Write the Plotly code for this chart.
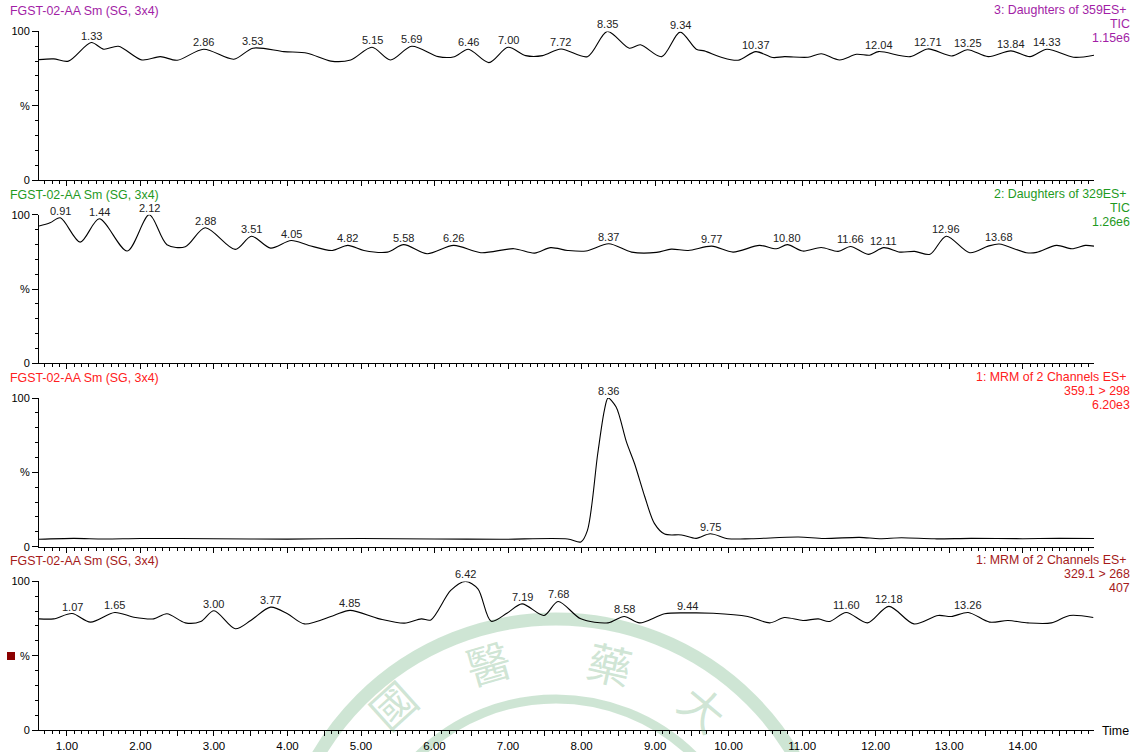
import plotly.graph_objects as go

# ---- retention time (min) / relative intensity (%) for each channel ----
t_d359 = [0.62, 0.82, 1.02, 1.33, 1.50, 1.70, 2.02, 2.27, 2.50, 2.86, 3.27, 3.53, 3.95,
          4.27, 4.59, 4.86, 5.15, 5.40, 5.69, 6.05, 6.27, 6.46, 6.74, 7.00, 7.24, 7.47,
          7.72, 8.08, 8.35, 8.65, 8.80, 9.09, 9.34, 9.56, 9.67, 9.90, 10.13, 10.37, 10.60,
          10.76, 11.08, 11.26, 11.51, 11.74, 11.92, 12.04, 12.47, 12.71, 13.04, 13.25,
          13.53, 13.84, 14.10, 14.33, 14.69, 14.97]
i_d359 = [81.0, 81.5, 80.0, 92.5, 88.0, 90.0, 80.8, 83.0, 80.6, 88.0, 81.3, 88.7, 86.4,
          85.3, 80.0, 80.8, 89.3, 80.8, 90.0, 83.0, 83.0, 88.0, 79.0, 89.3, 83.7, 83.7,
          88.2, 83.0, 100.0, 88.7, 91.0, 83.0, 99.5, 88.0, 86.9, 82.6, 80.6, 86.4, 82.4,
          83.0, 82.6, 85.0, 80.8, 84.6, 84.0, 86.4, 83.0, 88.2, 83.5, 87.7,
          83.0, 86.9, 83.0, 88.0, 82.6, 84.0]
pk_d359 = [1.33, 2.86, 3.53, 5.15, 5.69, 6.46, 7.00, 7.72, 8.35, 9.34, 10.37, 12.04,
           12.71, 13.25, 13.84, 14.33]

t_d329 = [0.62, 0.77, 0.91, 1.18, 1.44, 1.82, 2.12, 2.36, 2.61, 2.88, 3.29, 3.51, 3.77,
          4.05, 4.29, 4.61, 4.82, 5.04, 5.36, 5.58, 5.90, 6.26, 6.63, 7.08, 7.36, 7.58,
          7.81, 8.06, 8.37, 8.68, 9.02, 9.22, 9.45, 9.77, 10.06, 10.42, 10.65, 10.80,
          11.01, 11.26, 11.49, 11.66, 11.90, 12.11, 12.33, 12.53, 12.74, 12.96, 13.28,
          13.53, 13.68, 14.05, 14.19, 14.46, 14.67, 14.85, 14.97]
i_d329 = [92.4, 94.6, 98.0, 81.6, 97.3, 75.6, 100.0, 79.9, 78.5, 91.3, 76.7, 85.6, 77.6,
          82.7, 79.4, 76.0, 79.4, 76.0, 74.9, 79.9, 73.8, 79.4, 74.5, 77.2, 74.2, 77.9,
          76.0, 75.6, 80.5, 74.9, 74.7, 76.9, 76.0, 78.9, 74.9, 79.4, 77.2, 79.9,
          75.6, 78.0, 75.4, 78.7, 73.4, 77.9, 74.9, 75.4, 73.4, 85.6, 74.5,
          78.9, 80.3, 74.5, 74.7, 79.4, 77.2, 79.4, 78.9]
pk_d329 = [0.91, 1.44, 2.12, 2.88, 3.51, 4.05, 4.82, 5.58, 6.26, 8.37, 9.77, 10.80,
           11.66, 12.11, 12.96, 13.68]

t_mrm298 = [0.62, 1.09, 1.50, 2.00, 3.00, 4.00, 5.00, 6.00, 6.90, 7.81, 7.99, 8.08, 8.22,
            8.31, 8.36, 8.47, 8.61, 8.72, 8.86, 8.99, 9.13, 9.36, 9.56, 9.75, 9.99, 10.31,
            10.95, 11.30, 11.78, 12.05, 12.35, 12.80, 13.30, 14.00, 14.50, 14.97]
i_mrm298 = [5.0, 5.6, 5.2, 5.5, 5.4, 5.1, 5.5, 5.2, 5.0, 5.2, 3.2, 11.0, 62.7,
            91.7, 100.0, 94.0, 70.5, 56.0, 33.6, 15.7, 8.5, 7.9, 5.6, 8.7, 5.4, 5.4,
            6.5, 5.5, 6.3, 5.4, 6.0, 5.3, 5.6, 5.4, 5.6, 5.5]
pk_mrm298 = [8.36, 9.75]

t_mrm268 = [0.62, 0.82, 1.07, 1.32, 1.65, 1.91, 2.18, 2.36, 2.61, 2.82, 3.00, 3.29, 3.50,
            3.77, 4.00, 4.23, 4.63, 4.85, 5.25, 5.59, 5.82, 5.95, 6.22, 6.42, 6.59, 6.77,
            6.99, 7.19, 7.49, 7.68, 7.99, 8.36, 8.58, 8.79, 9.13, 9.44, 9.79, 10.26, 10.56,
            10.76, 11.01, 11.22, 11.37, 11.60, 11.89, 12.18, 12.52, 12.85, 13.03, 13.26,
            13.55, 13.80, 14.07, 14.39, 14.64, 14.96]
i_mrm268 = [74.8, 74.8, 78.4, 72.6, 79.1, 75.9, 74.8, 78.2, 72.1, 73.0, 80.2, 68.1, 73.7,
            82.7, 78.2, 71.4, 77.1, 80.5, 74.8, 71.9, 74.8, 74.1, 93.9, 100.0, 95.0, 73.2,
            78.8, 84.9, 77.1, 86.5, 74.8, 72.1, 76.4, 72.1, 78.2, 78.8, 78.6, 76.4, 72.1,
            75.7, 73.7, 74.8, 73.0, 79.1, 72.1, 83.2, 71.4, 77.1, 76.4, 79.1,
            72.6, 73.7, 72.1, 72.1, 77.1, 75.7]
pk_mrm268 = [1.07, 1.65, 3.00, 3.77, 4.85, 6.42, 7.19, 7.68, 8.58, 9.44, 11.60, 12.18, 13.26]

sample_title = "FGST-02-AA Sm (SG, 3x4)"
channel_info = [
    ["3: Daughters of 359ES+ ", "TIC", "1.15e6"],
    ["2: Daughters of 329ES+ ", "TIC", "1.26e6"],
    ["1: MRM of 2 Channels ES+ ", "359.1 > 298", "6.20e3"],
    ["1: MRM of 2 Channels ES+ ", "329.1 > 268", "407"],
]
title_colors = ["#a21ea6", "#1f9a1f", "#ff2020", "#a51a1a"]

x_tick_labels = ["1.00", "2.00", "3.00", "4.00", "5.00", "6.00", "7.00", "8.00", "9.00",
                 "10.00", "11.00", "12.00", "13.00", "14.00"]

# ---- page geometry (pixels) ----
W, H = 1138, 752
ML, MR, MT, MB = 39, 44, 31, 22
PW, PH = W - ML - MR, H - MT - MB
X_RANGE = [0.62, 14.97]
panel_bottom_px = [180.0, 363.4, 546.7, 730.0]
panel_height_px = 148.6

FONT = "Liberation Sans, Arial, sans-serif"


def px_x(px):
    return (px - ML) / PW


def px_y(py):
    return (H - MB - py) / PH


series = [
    (t_d359, i_d359, pk_d359),
    (t_d329, i_d329, pk_d329),
    (t_mrm298, i_mrm298, pk_mrm298),
    (t_mrm268, i_mrm268, pk_mrm268),
]

fig = go.Figure()
annotations = []
layout_axes = {}

major_x = []
major_x_text = []
for lab in x_tick_labels:
    v = float(lab)
    major_x += [v, v + 0.5]
    major_x_text += [lab, ""]

for k, (tt, ii, pks) in enumerate(series):
    n = k + 1
    xid = "x" if n == 1 else f"x{n}"
    yid = "y" if n == 1 else f"y{n}"
    fig.add_trace(go.Scatter(
        x=tt, y=ii, mode="lines", xaxis=xid, yaxis=yid,
        line=dict(color="black", width=1.1, shape="spline", smoothing=0.85),
        hoverinfo="skip", showlegend=False))

    # retention-time labels above the apex of each labelled peak
    for p in pks:
        val = ii[tt.index(p)]
        annotations.append(dict(
            x=p, y=val, xref=xid, yref=yid, text=f"{p:.2f}", showarrow=False,
            yanchor="bottom", yshift=-1, font=dict(family=FONT, size=11, color="#222222")))

    bottom = panel_bottom_px[k]
    dom = [px_y(bottom), px_y(bottom - panel_height_px)]
    yname = "yaxis" if n == 1 else f"yaxis{n}"
    xname = "xaxis" if n == 1 else f"xaxis{n}"
    layout_axes[yname] = dict(
        domain=dom, range=[0, 100], anchor=xid, automargin=False,
        tickmode="array", tickvals=[0, 50, 100], ticktext=["0", "%", "100"],
        ticks="outside", ticklen=6, tickcolor="black", tickwidth=1,
        minor=dict(tick0=0, dtick=10, ticks="outside", ticklen=3, tickcolor="black"),
        showline=True, linecolor="black", linewidth=1,
        showgrid=False, zeroline=False,
        tickfont=dict(family=FONT, size=11, color="black"))
    layout_axes[xname] = dict(
        domain=[0, 1], range=X_RANGE, anchor=yid, automargin=False,
        tickmode="array", tickvals=major_x, ticktext=major_x_text,
        ticks="outside", ticklen=5, tickcolor="black", tickwidth=1,
        minor=dict(tick0=0, dtick=0.1, ticks="outside", ticklen=3, tickcolor="black"),
        showline=True, linecolor="black", linewidth=1,
        showgrid=False, zeroline=False, showticklabels=(n == 4),
        tickfont=dict(family=FONT, size=11.5, color="black"))

    # panel headers
    top = bottom - panel_height_px
    annotations.append(dict(
        x=px_x(8), y=px_y(top - 20), xref="paper", yref="paper",
        text=sample_title, showarrow=False, xanchor="left", yanchor="middle",
        font=dict(family=FONT, size=12.4, color=title_colors[k])))
    for j, line in enumerate(channel_info[k]):
        annotations.append(dict(
            x=px_x(1132), y=px_y(top - 21 + 14 * j), xref="paper", yref="paper",
            text=line, showarrow=False, xanchor="right", yanchor="middle",
            font=dict(family=FONT, size=12.4, color=title_colors[k])))

annotations.append(dict(
    x=px_x(1100), y=px_y(731), xref="paper", yref="paper", text="Time",
    showarrow=False, xanchor="left", yanchor="middle",
    font=dict(family=FONT, size=12.4, color="black")))

# faint university seal in the background
seal = "rgba(120,182,135,0.36)"
cx, cy = 556, 895
shapes = []
for r, w in [(276, 13), (196, 9)]:
    shapes.append(dict(
        type="circle", xref="paper", yref="paper", layer="below",
        x0=px_x(cx - r), x1=px_x(cx + r), y0=px_y(cy + r), y1=px_y(cy - r),
        line=dict(color=seal, width=w)))
for ch, (gx, gy, ang) in zip("國醫藥大", [(392, 704, -42), (488, 662, -16),
                                        (610, 663, 13), (704, 707, 40)]):
    annotations.append(dict(
        x=px_x(gx), y=px_y(gy), xref="paper", yref="paper", text=ch,
        showarrow=False, textangle=ang, xanchor="center", yanchor="middle",
        font=dict(family="Noto Sans CJK TC", size=44, color=seal)))

# channel selection marker beside the lower panel
shapes.append(dict(
    type="rect", xref="paper", yref="paper",
    x0=px_x(7), x1=px_x(15), y0=px_y(660), y1=px_y(652),
    fillcolor="#8b0000", line=dict(width=0)))

fig.update_layout(
    width=W, height=H,
    margin=dict(l=ML, r=MR, t=MT, b=MB, pad=0, autoexpand=False),
    paper_bgcolor="white", plot_bgcolor="rgba(0,0,0,0)",
    annotations=annotations, shapes=shapes,
    font=dict(family=FONT, color="black"),
    **layout_axes)

fig.write_html("out.html")
